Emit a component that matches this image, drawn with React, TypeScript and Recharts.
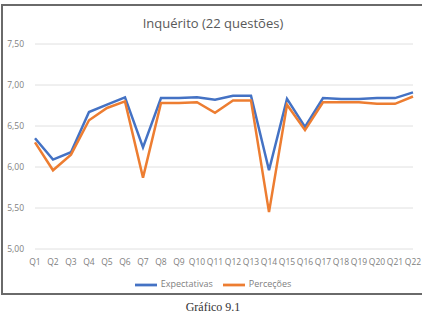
import React from 'react';
import { LineChart, Line, XAxis, YAxis, CartesianGrid, Legend } from 'recharts';

const categories = ['Q1','Q2','Q3','Q4','Q5','Q6','Q7','Q8','Q9','Q10','Q11','Q12','Q13','Q14','Q15','Q16','Q17','Q18','Q19','Q20','Q21','Q22'];
const expectativas = [6.35,6.09,6.18,6.67,6.76,6.85,6.24,6.84,6.84,6.85,6.82,6.87,6.87,5.96,6.83,6.49,6.84,6.83,6.83,6.84,6.84,6.91];
const percecoes = [6.30,5.96,6.15,6.57,6.72,6.80,5.87,6.78,6.78,6.79,6.66,6.81,6.81,5.45,6.76,6.45,6.79,6.79,6.79,6.77,6.77,6.86];
const yTicks = [5, 5.5, 6, 6.5, 7, 7.5];

const data = categories.map((q, i) => ({ q, Expectativas: expectativas[i], 'Perceções': percecoes[i] }));

const FONT = 'Open Sans, Liberation Sans, sans-serif';

export default function App() {
  return (
    <div style={{ position: 'absolute', left: 0, top: 0, width: 422, height: 315, background: '#fff', overflow: 'hidden' }}>
      <div style={{ position: 'absolute', left: 1, top: 4, width: 425, height: 291, border: '2px solid #6a6a6a', boxSizing: 'border-box' }} />
      <div style={{ position: 'absolute', left: 0, top: 14, width: 426, textAlign: 'center', fontFamily: FONT, fontSize: 13, color: '#595959' }}>
        Inquérito (22 questões)
      </div>
      <div style={{ position: 'absolute', left: 0, top: 300, width: 426, textAlign: 'center', fontFamily: 'Liberation Serif, serif', fontSize: 12, lineHeight: '14px', color: '#333' }}>
        Gráfico 9.1
      </div>
      <div style={{ position: 'absolute', left: 0, top: 0 }}>
        <LineChart width={422} height={300} data={data} margin={{ top: 44, right: 9, left: 0, bottom: 21 }}>
          <CartesianGrid vertical={false} stroke="#e0e0e0" />
          <XAxis dataKey="q" interval={0} axisLine={false} tickLine={false} tick={{ fontSize: 8.5, fill: '#808080', fontFamily: FONT }} tickMargin={4} />
          <YAxis width={35} domain={[5, 7.5]} ticks={yTicks} axisLine={false} tickLine={false} tickMargin={5}
            tick={{ fontSize: 8.5, fill: '#808080', fontFamily: FONT }} tickFormatter={(v: number) => v.toFixed(2).replace('.', ',')} />
          <Legend layout="horizontal" verticalAlign="middle" align="center" iconSize={22}
            wrapperStyle={{ top: 274, left: 7, width: 422, fontFamily: FONT, fontSize: 9, color: '#808080' }}
            formatter={(v: string) => <span style={{ color: '#808080' }}>{v}</span>} />
          <Line type="linear" dataKey="Expectativas" stroke="#4472C4" strokeWidth={2.5} dot={false} legendType="plainline" isAnimationActive={false} />
          <Line type="linear" dataKey="Perceções" stroke="#ED7D31" strokeWidth={2.5} dot={false} legendType="plainline" isAnimationActive={false} />
        </LineChart>
      </div>
    </div>
  );
}
